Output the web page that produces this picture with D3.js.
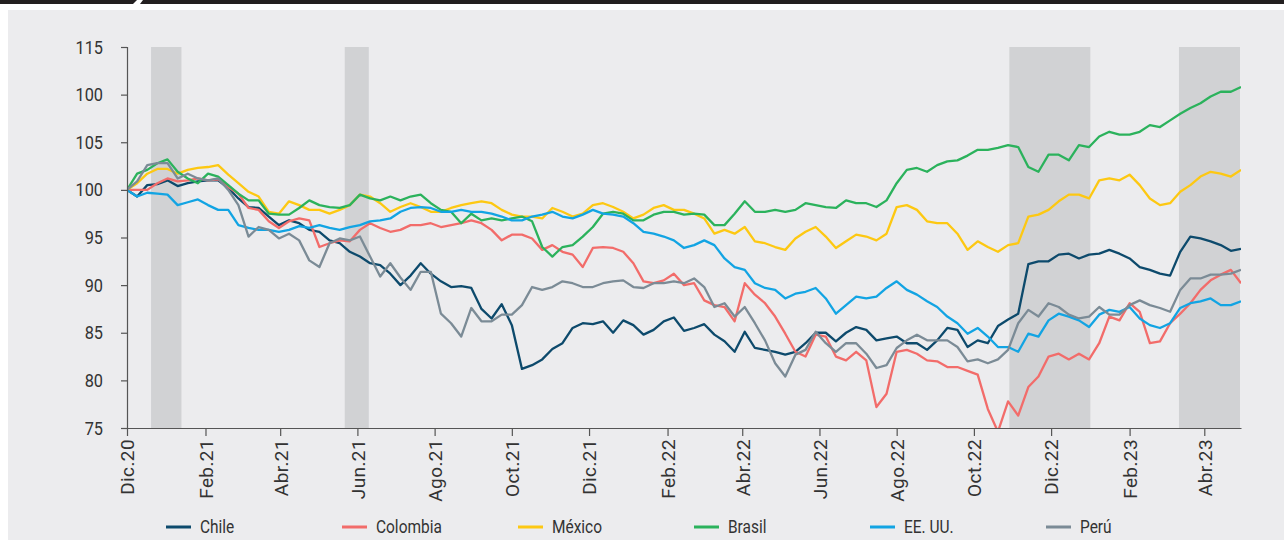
<!DOCTYPE html>
<html>
<head>
<meta charset="utf-8">
<script src="https://cdn.jsdelivr.net/npm/d3@7"></script>
<style>
  html, body { margin: 0; padding: 0; background: #fff; }
  svg { display: block; }
  text { font-family: "Roboto", "Liberation Sans", sans-serif; fill: #333; }
</style>
</head>
<body>
<div id="chart"></div>
<script>
// series sampled every 8 days from 1 Dec 2020 (index = 100)
const startDate = new Date(2020, 11, 1);
const endDate = new Date(2023, 3, 30);
const stepDays = 8;

const chile = [
  100.0, 99.3, 100.5, 100.6, 101.0, 100.4, 100.7, 100.9, 101.0, 101.0,
  100.2, 99.1, 98.2, 98.1, 97.2, 96.3, 96.8, 96.5, 95.8, 95.6,
  94.7, 94.4, 93.5, 93.0, 92.3, 92.1, 91.2, 90.0, 91.0, 92.3,
  91.2, 90.4, 89.8, 89.9, 89.7, 87.5, 86.5, 88.0, 85.8, 81.2,
  81.6, 82.2, 83.3, 83.9, 85.5, 86.0, 85.9, 86.2, 85.0, 86.3,
  85.8, 84.8, 85.3, 86.2, 86.6, 85.2, 85.5, 85.9, 84.8, 84.1,
  83.0, 85.1, 83.4, 83.2, 83.0, 82.7, 83.0, 83.9, 85.0, 85.0,
  84.1, 85.0, 85.6, 85.3, 84.2, 84.4, 84.6, 83.9, 83.9, 83.2,
  84.2, 85.5, 85.3, 83.5, 84.2, 83.9, 85.7, 86.4, 87.0, 92.2,
  92.5, 92.5, 93.2, 93.3, 92.8, 93.2, 93.3, 93.7, 93.3, 92.8,
  91.9, 91.6, 91.2, 91.0, 93.5, 95.1, 94.9, 94.6, 94.2, 93.6,
  93.8
];
const colombia = [
  100.0, 100.0, 100.0, 100.7, 101.2, 100.9, 101.0, 101.2, 101.0, 101.1,
  100.3, 99.6, 98.1, 97.9, 96.7, 96.0, 96.7, 97.0, 96.8, 94.0,
  94.4, 94.7, 94.6, 95.8, 96.5, 96.0, 95.6, 95.8, 96.3, 96.3,
  96.5, 96.1, 96.3, 96.5, 96.8, 96.5, 95.8, 94.7, 95.3, 95.3,
  94.9, 93.7, 94.2, 93.5, 93.2, 91.9, 93.9, 94.0, 93.9, 93.5,
  92.3, 90.4, 90.2, 90.5, 91.2, 90.0, 90.2, 88.4, 87.9, 87.7,
  86.2, 90.2, 89.0, 88.1, 86.7, 84.9, 83.0, 82.5, 84.8, 84.6,
  82.5, 82.1, 83.0, 82.1, 77.2, 78.6, 83.0, 83.2, 82.8, 82.1,
  82.0, 81.4, 81.4, 81.0, 80.6, 77.0, 74.6, 77.8, 76.3, 79.3,
  80.4, 82.5, 82.8, 82.2, 82.8, 82.2, 83.9, 86.7, 86.3, 88.1,
  87.2, 83.9, 84.1, 86.0, 87.0, 88.1, 89.5, 90.5, 91.1, 91.6,
  90.2
];
const mexico = [
  100.0, 100.7, 101.7, 102.2, 102.2, 101.7, 102.1, 102.3, 102.4, 102.6,
  101.6, 100.7, 99.8, 99.3, 97.7, 97.5, 98.8, 98.4, 97.9, 97.9,
  97.5, 97.9, 98.4, 99.5, 99.3, 98.6, 97.7, 98.2, 98.6, 98.2,
  97.7, 97.7, 98.1, 98.4, 98.6, 98.8, 98.6, 97.9, 97.4, 97.2,
  97.2, 97.0, 98.1, 97.7, 97.2, 97.5, 98.4, 98.6, 98.2, 97.7,
  97.0, 97.4, 98.1, 98.4, 97.9, 97.9, 97.5, 97.0, 95.4, 95.8,
  95.4, 96.1, 94.6, 94.4, 94.0, 93.7, 94.9, 95.6, 96.1, 95.1,
  93.9, 94.6, 95.3, 95.1, 94.7, 95.4, 98.2, 98.4, 97.9, 96.7,
  96.5, 96.5, 95.4, 93.7, 94.6, 94.0, 93.5, 94.2, 94.4, 97.2,
  97.4, 97.9, 98.8, 99.5, 99.5, 99.1, 101.0, 101.2, 101.0, 101.6,
  100.5, 99.1, 98.4, 98.6, 99.8, 100.5, 101.4, 101.9, 101.7, 101.4,
  102.1
];
const brasil = [
  100.0, 101.7, 102.1, 102.8, 103.2, 101.9, 101.2, 100.7, 101.7, 101.4,
  100.5, 99.6, 98.9, 98.9, 97.5, 97.4, 97.4, 98.1, 98.9, 98.4,
  98.2, 98.1, 98.4, 99.5, 99.1, 98.9, 99.3, 98.9, 99.3, 99.5,
  98.6, 97.9, 97.7, 96.5, 97.5, 96.8, 97.0, 96.8, 97.0, 97.2,
  96.7, 94.0, 93.0, 94.0, 94.2, 95.1, 96.1, 97.5, 97.7, 97.5,
  96.8, 96.8, 97.4, 97.7, 97.7, 97.4, 97.5, 97.4, 96.3, 96.3,
  97.5, 98.8, 97.7, 97.7, 97.9, 97.7, 97.9, 98.6, 98.4, 98.2,
  98.1, 98.9, 98.6, 98.6, 98.2, 98.9, 100.7, 102.1, 102.3, 101.9,
  102.6, 103.0, 103.1, 103.6, 104.2, 104.2, 104.4, 104.7, 104.5, 102.4,
  101.9, 103.7, 103.7, 103.1, 104.7, 104.5, 105.6, 106.1, 105.8, 105.8,
  106.1, 106.8, 106.6, 107.3, 108.0, 108.6, 109.1, 109.8, 110.3, 110.3,
  110.8
];
const eeuu = [
  100.0, 99.3, 99.7, 99.6, 99.5, 98.4, 98.7, 99.0, 98.4, 97.9,
  97.9, 96.3, 96.0, 95.8, 95.8, 95.6, 95.8, 96.2, 96.0, 96.3,
  96.0, 95.8, 96.1, 96.3, 96.7, 96.8, 97.0, 97.7, 98.1, 98.2,
  98.1, 97.7, 97.7, 97.9, 97.7, 97.7, 97.5, 97.2, 96.8, 96.8,
  97.2, 97.4, 97.7, 97.2, 97.0, 97.4, 97.9, 97.5, 97.4, 97.2,
  96.5, 95.6, 95.4, 95.1, 94.7, 93.9, 94.2, 94.7, 94.2, 92.8,
  91.9, 91.6, 90.2, 89.7, 89.5, 88.6, 89.1, 89.3, 89.7, 88.6,
  87.0, 87.9, 88.8, 88.6, 88.8, 89.7, 90.4, 89.5, 89.0, 88.3,
  87.7, 86.7, 86.0, 84.9, 85.5, 84.6, 83.5, 83.5, 83.0, 84.9,
  84.6, 86.3, 87.0, 86.7, 86.3, 85.6, 86.9, 87.4, 87.2, 87.7,
  86.5, 85.8, 85.5, 86.0, 87.6, 88.1, 88.3, 88.6, 87.9, 87.9,
  88.3
];
const peru = [
  100.0, 100.9, 102.6, 102.8, 102.8, 101.2, 101.7, 101.2, 101.0, 101.2,
  100.0, 98.4, 95.1, 96.1, 95.8, 94.9, 95.4, 94.7, 92.6, 91.9,
  94.4, 94.9, 94.7, 95.1, 93.0, 90.9, 92.3, 90.8, 89.5, 91.4,
  91.4, 87.0, 86.0, 84.6, 87.6, 86.2, 86.2, 86.9, 86.9, 87.9,
  89.8, 89.5, 89.8, 90.4, 90.2, 89.8, 89.8, 90.2, 90.4, 90.5,
  89.8, 89.7, 90.2, 90.2, 90.4, 90.2, 90.7, 89.8, 87.7, 88.1,
  86.7, 87.7, 86.0, 84.2, 81.8, 80.4, 82.7, 83.2, 85.1, 83.9,
  83.0, 83.9, 83.9, 82.8, 81.3, 81.6, 83.4, 84.2, 84.8, 84.2,
  84.2, 84.2, 83.5, 82.0, 82.2, 81.8, 82.2, 83.2, 86.0, 87.4,
  86.7, 88.1, 87.7, 86.9, 86.5, 86.7, 87.7, 86.9, 86.9, 87.9,
  88.4, 87.9, 87.6, 87.2, 89.5, 90.7, 90.7, 91.1, 91.1, 91.2,
  91.6
];

const seriesNames = ['Chile', 'Colombia', 'México', 'Brasil', 'EE. UU.', 'Perú'];
const seriesValues = [chile, colombia, mexico, brasil, eeuu, peru];
const seriesColors = ['#0d4a6c', '#f26c6a', '#fdc812', '#2bb25c', '#12a4e3', '#7b8b96'];

// shaded periods
const shadedPeriods = [
  [new Date(2020, 11, 20), new Date(2021, 0, 13)],
  [new Date(2021, 4, 22), new Date(2021, 5, 10)],
  [new Date(2022, 9, 29), new Date(2023, 0, 1)],
  [new Date(2023, 2, 12), new Date(2023, 3, 30)]
];

const xTickDates = [
  new Date(2020, 11, 1), new Date(2021, 1, 1), new Date(2021, 3, 1), new Date(2021, 5, 1),
  new Date(2021, 7, 1), new Date(2021, 9, 1), new Date(2021, 11, 1), new Date(2022, 1, 1),
  new Date(2022, 3, 1), new Date(2022, 5, 1), new Date(2022, 7, 1), new Date(2022, 9, 1),
  new Date(2022, 11, 1), new Date(2023, 1, 1), new Date(2023, 3, 1)
];
const xTickLabels = ['Dic.20', 'Feb.21', 'Abr.21', 'Jun.21', 'Ago.21', 'Oct.21', 'Dic.21',
  'Feb.22', 'Abr.22', 'Jun.22', 'Ago.22', 'Oct.22', 'Dic.22', 'Feb.23', 'Abr.23'];
const yTickValues = [115, 110, 105, 100, 95, 90, 85, 80, 75];
const yTickLabels = ['115', '100', '105', '100', '95', '90', '85', '80', '75'];

const width = 1284;
const height = 540;
const plot = { left: 127, right: 1241, top: 47, bottom: 428 };
const squeeze = 0.86; // narrow type like the original

const svg = d3.select('#chart').append('svg')
  .attr('width', width)
  .attr('height', height);

// background panel and top rule
svg.append('rect')
  .attr('x', 8).attr('y', 10)
  .attr('width', width - 8).attr('height', height - 10)
  .attr('fill', '#ececee');
svg.append('polygon')
  .attr('points', '0,0 137,0 133,4 0,4')
  .attr('fill', '#231f20');
svg.append('polygon')
  .attr('points', '143,0 1284,0 1284,4 140,4')
  .attr('fill', '#231f20');

const x = d3.scaleTime()
  .domain([startDate, endDate])
  .range([plot.left, plot.right]);
const y = d3.scaleLinear()
  .domain([75, 115])
  .range([plot.bottom, plot.top]);

const sampleDates = d3.range(chile.length).map(i => d3.timeDay.offset(startDate, i * stepDays));

svg.append('g')
  .selectAll('rect')
  .data(shadedPeriods)
  .enter().append('rect')
  .attr('x', d => x(d[0]))
  .attr('y', plot.top)
  .attr('width', d => Math.min(x(d[1]), plot.right - 1) - x(d[0]))
  .attr('height', plot.bottom - plot.top)
  .attr('fill', '#d1d2d4');

svg.append('clipPath')
  .attr('id', 'plot-clip')
  .append('rect')
  .attr('x', plot.left).attr('y', plot.top)
  .attr('width', plot.right - plot.left).attr('height', plot.bottom - plot.top);

const line = d3.line()
  .x((d, i) => x(sampleDates[i]))
  .y(d => y(d));

svg.append('g')
  .attr('clip-path', 'url(#plot-clip)')
  .selectAll('path')
  .data(seriesValues)
  .enter().append('path')
  .attr('d', d => line(d))
  .attr('fill', 'none')
  .attr('stroke', (d, i) => seriesColors[i])
  .attr('stroke-width', 2.3)
  .attr('stroke-linejoin', 'round');

// axes
const yAxis = svg.append('g')
  .attr('transform', `translate(${plot.left},0)`)
  .call(d3.axisLeft(y)
    .tickValues(yTickValues)
    .tickFormat((d, i) => yTickLabels[i])
    .tickSize(6));
yAxis.selectAll('text')
  .style('font-size', '19px')
  .attr('x', -24 / squeeze)
  .attr('transform', `scale(${squeeze},1)`);

const xAxis = svg.append('g')
  .attr('transform', `translate(0,${plot.bottom})`)
  .call(d3.axisBottom(x)
    .tickValues(xTickDates)
    .tickFormat((d, i) => xTickLabels[i])
    .tickSize(8)
    .tickSizeOuter(0));
xAxis.selectAll('text')
  .style('font-size', '19px')
  .style('letter-spacing', '0.4px')
  .attr('transform', 'rotate(-90)')
  .attr('text-anchor', 'end')
  .attr('x', -11)
  .attr('y', 0)
  .attr('dy', '0.36em');

svg.selectAll('.domain, .tick line').attr('stroke', '#555').attr('stroke-width', 1.2);
svg.selectAll('.tick text').attr('fill', '#333');

// legend
const legend = svg.append('g')
  .selectAll('g')
  .data(seriesNames)
  .enter().append('g')
  .attr('transform', (d, i) => `translate(${166 + i * 176},527)`);
legend.append('line')
  .attr('x1', 0).attr('x2', 25)
  .attr('stroke', (d, i) => seriesColors[i])
  .attr('stroke-width', 3);
legend.append('text')
  .attr('x', 34 / squeeze)
  .attr('dy', '0.36em')
  .attr('transform', `scale(${squeeze},1)`)
  .style('font-size', '18px')
  .text(d => d);
</script>
</body>
</html>
